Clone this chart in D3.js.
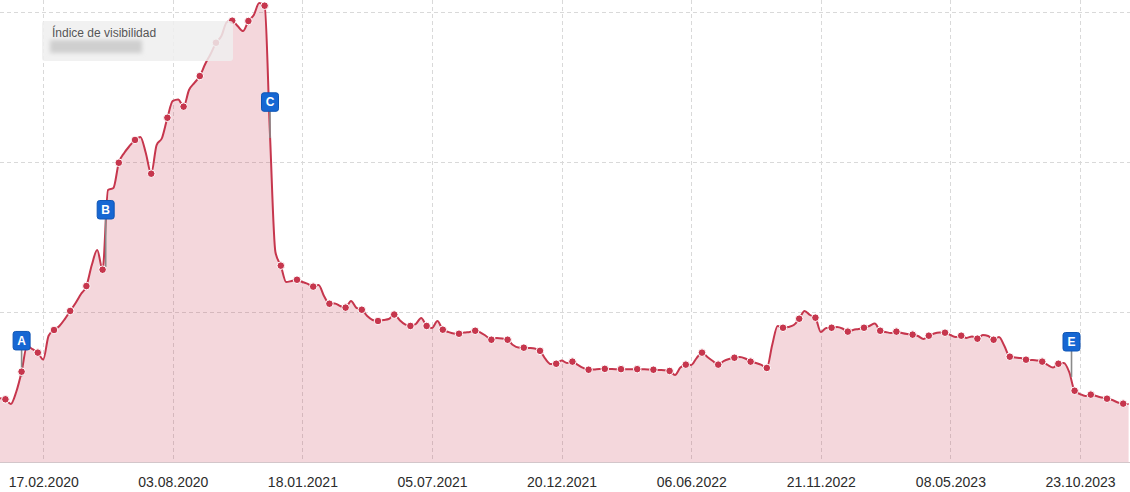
<!DOCTYPE html>
<html>
<head>
<meta charset="utf-8">
<script src="https://cdn.jsdelivr.net/npm/d3@7"></script>
<style>
  html, body { margin: 0; padding: 0; background: #ffffff; }
  svg { display: block; }
</style>
</head>
<body>
<svg id="chart" width="1130" height="492"></svg>
<script>
// ---------------- DATA ----------------
const seriesName = "Índice de visibilidad";
const firstWeek = "23.12.2019";          // date of the first weekly value
// weekly visibility values (a marker is shown on every third week)
const weeklyValues = [
  0.425,
  0.418, 0.387, 0.467,
  0.602, 0.773, 0.753,
  0.729, 0.683, 0.842,
  0.880, 0.907, 0.953,
  1.007, 1.060, 1.120,
  1.173, 1.313, 1.413,
  1.282, 1.813, 1.827,
  1.995, 2.060, 2.107,
  2.147, 2.167, 2.060,
  1.922, 2.113, 2.160,
  2.295, 2.407, 2.417,
  2.369, 2.480, 2.527,
  2.573, 2.653, 2.720,
  2.795, 2.840, 2.933,
  2.942, 2.907, 2.873,
  2.940, 2.980, 3.060,
  3.042, 2.180, 1.400,
  1.309, 1.200, 1.207,
  1.215, 1.200, 1.187,
  1.169, 1.180, 1.107,
  1.055, 1.057, 1.040,
  1.029, 1.073, 1.027,
  1.015, 0.973, 0.947,
  0.940, 0.947, 0.953,
  0.983, 0.947, 0.917,
  0.907, 0.920, 0.960,
  0.907, 0.893, 0.940,
  0.882, 0.867, 0.857,
  0.855, 0.863, 0.867,
  0.875, 0.863, 0.840,
  0.815, 0.827, 0.823,
  0.815, 0.780, 0.763,
  0.762, 0.760, 0.757,
  0.741, 0.687, 0.653,
  0.655, 0.677, 0.660,
  0.669, 0.647, 0.627,
  0.615, 0.617, 0.620,
  0.621, 0.620, 0.619,
  0.619, 0.619, 0.619,
  0.619, 0.618, 0.617,
  0.615, 0.613, 0.612,
  0.607, 0.580, 0.630,
  0.649, 0.647, 0.693,
  0.729, 0.700, 0.673,
  0.649, 0.673, 0.687,
  0.695, 0.700, 0.690,
  0.669, 0.660, 0.647,
  0.627, 0.780, 0.907,
  0.895, 0.900, 0.913,
  0.955, 1.007, 0.980,
  0.962, 0.867, 0.893,
  0.895, 0.900, 0.890,
  0.869, 0.880, 0.887,
  0.895, 0.907, 0.923,
  0.875, 0.867, 0.860,
  0.869, 0.860, 0.853,
  0.849, 0.840, 0.820,
  0.842, 0.857, 0.863,
  0.862, 0.847, 0.833,
  0.842, 0.827, 0.837,
  0.822, 0.847, 0.840,
  0.815, 0.833, 0.773,
  0.702, 0.697, 0.693,
  0.682, 0.680, 0.677,
  0.669, 0.647, 0.630,
  0.655, 0.660, 0.600,
  0.475, 0.453, 0.440,
  0.449, 0.440, 0.430,
  0.422, 0.413, 0.397,
  0.389, 0.387
];
const markerEvery = 3;
const markerOffset = 1;

const tickLabels = ["17.02.2020", "03.08.2020", "18.01.2021", "05.07.2021", "20.12.2021",
                    "06.06.2022", "21.11.2022", "08.05.2023", "23.10.2023"];
const gridValues = [1, 2, 3];

const flagNames  = ["A", "B", "C", "E"];
const flagDates  = ["20.01.2020", "08.05.2020", "07.12.2020", "12.10.2023"];
const flagTop    = [0.747, 1.620, 2.338, 0.740];   // value at the bottom of the flag box
const flagBottom = [0.570, 1.300, 2.160, 0.567];   // value where the pole meets the series

// ---------------- CHART ----------------
const W = 1130, H = 492;
const plotLeft = 0, plotRight = 1130, plotTop = 0, plotBottom = 462;
const parse = d3.utcParse("%d.%m.%Y");
const fmt = d3.utcFormat("%d.%m.%Y");

const start = parse(firstWeek);
const data = weeklyValues.map((v, i) => ({
  date: d3.utcDay.offset(start, 7 * i),
  value: v,
  marker: (i - markerOffset) % markerEvery === 0
}));
const tickDates = tickLabels.map(parse);

const x = d3.scaleUtc()
  .domain([tickDates[0], tickDates[tickDates.length - 1]])
  .range([43.2, 1080]);
const y = d3.scaleLinear().domain([0, 3]).range([plotBottom, 12]);

const svg = d3.select("#chart");
const defs = svg.append("defs");
defs.append("clipPath").attr("id", "plotClip")
  .append("rect").attr("x", plotLeft).attr("y", plotTop)
  .attr("width", plotRight - plotLeft).attr("height", plotBottom - plotTop);
const blur = defs.append("filter").attr("id", "blurF")
  .attr("x", "-20%").attr("y", "-60%").attr("width", "140%").attr("height", "220%");
blur.append("feGaussianBlur").attr("stdDeviation", 2.2);

// grid
const grid = svg.append("g");
grid.selectAll("line.h").data(gridValues).join("line")
  .attr("x1", plotLeft).attr("x2", plotRight)
  .attr("y1", d => Math.round(y(d)) + 0.5).attr("y2", d => Math.round(y(d)) + 0.5)
  .attr("stroke", "#d9d9d9").attr("stroke-width", 1).attr("stroke-dasharray", "4,3");
grid.selectAll("line.v").data(tickDates).join("line")
  .attr("x1", d => Math.round(x(d)) + 0.5).attr("x2", d => Math.round(x(d)) + 0.5)
  .attr("y1", plotTop).attr("y2", plotBottom)
  .attr("stroke", "#d9d9d9").attr("stroke-width", 1).attr("stroke-dasharray", "4,3");

// series
const curve = d3.curveMonotoneX;
const area = d3.area().x(d => x(d.date)).y0(plotBottom).y1(d => y(d.value)).curve(curve);
const line = d3.line().x(d => x(d.date)).y(d => y(d.value)).curve(curve);
const series = svg.append("g").attr("clip-path", "url(#plotClip)");
series.append("path").datum(data).attr("d", area)
  .attr("fill", "#c8374e").attr("fill-opacity", 0.2);
series.append("path").datum(data).attr("d", line)
  .attr("fill", "none").attr("stroke", "#c6364d").attr("stroke-width", 2);

// axis
svg.append("line").attr("x1", plotLeft).attr("x2", plotRight)
  .attr("y1", plotBottom + 0.5).attr("y2", plotBottom + 0.5)
  .attr("stroke", "#d3c6ca").attr("stroke-width", 1);
const axis = svg.append("g").attr("transform", `translate(0,${plotBottom + 0.5})`)
  .call(d3.axisBottom(x).tickValues(tickDates).tickFormat(fmt).tickSize(0).tickPadding(15));
axis.select(".domain").remove();
axis.selectAll("text")
  .attr("font-family", "'Liberation Sans', Arial, sans-serif")
  .attr("font-size", 14).attr("fill", "#2b2b2b");

// flags (poles)
const flags = flagNames.map((n, i) => ({
  name: n, date: parse(flagDates[i]), top: flagTop[i], bottom: flagBottom[i]
}));
const fl = svg.append("g");
fl.selectAll("line").data(flags).join("line")
  .attr("x1", d => x(d.date)).attr("x2", d => x(d.date))
  .attr("y1", d => y(d.top)).attr("y2", d => y(d.bottom))
  .attr("stroke", "#8a8a8a").attr("stroke-width", 1.6);

// markers
svg.append("g").selectAll("circle").data(data.filter(d => d.marker)).join("circle")
  .attr("cx", d => x(d.date)).attr("cy", d => y(d.value)).attr("r", 3.8)
  .attr("fill", "#c6364d").attr("stroke", "#ffffff").attr("stroke-width", 1);

// flag boxes
const fb = fl.selectAll("g.flag").data(flags).join("g").attr("class", "flag")
  .attr("transform", d => `translate(${x(d.date)},${y(d.top)})`);
fb.append("rect").attr("x", -8.5).attr("y", -18.5).attr("width", 17).attr("height", 18.5)
  .attr("rx", 2.5).attr("fill", "#1667d3").attr("stroke", "#0e55b5").attr("stroke-width", 1);
fb.append("text").attr("x", 0).attr("y", -5)
  .attr("text-anchor", "middle")
  .attr("font-family", "'Liberation Sans', Arial, sans-serif")
  .attr("font-size", 12).attr("font-weight", "bold").attr("fill", "#ffffff")
  .text(d => d.name);

// legend / tooltip box
const lg = svg.append("g").attr("transform", "translate(42,21)");
lg.append("rect").attr("width", 191).attr("height", 40).attr("rx", 3)
  .attr("fill", "#efefef").attr("fill-opacity", 0.85);
lg.append("text").attr("x", 10).attr("y", 15.5)
  .attr("font-family", "'Liberation Sans', Arial, sans-serif")
  .attr("font-size", 12).attr("fill", "#555555").text(seriesName);
lg.append("rect").attr("x", 8).attr("y", 19).attr("width", 92).attr("height", 13)
  .attr("fill", "#cfcfcf").attr("filter", "url(#blurF)");
</script>
</body>
</html>
